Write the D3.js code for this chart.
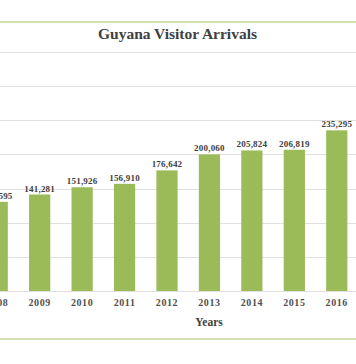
<!DOCTYPE html>
<html><head><meta charset="utf-8">
<script src="https://cdn.jsdelivr.net/npm/d3@7"></script>
<style>html,body{margin:0;padding:0;background:#fff;overflow:hidden}</style>
</head><body>
<script>
const years = ["2008","2009","2010","2011","2012","2013","2014","2015","2016"];
const arrivals = [130595,141281,151926,156910,176642,200060,205824,206819,235295];
const yTicks = [0,50000,100000,150000,200000,250000,300000,350000];
const title = "Guyana Visitor Arrivals";
const xTitle = "Years";

const W = 356, H = 364;
const svg = d3.select("body").append("svg").attr("width", W).attr("height", H);

const x = d3.scaleBand().domain(years).range([-24, 358]).paddingInner(0.5).paddingOuter(0.25);
const y = d3.scaleLinear().domain([0, 350000]).range([291, 52]);

// chart border (green)
svg.append("line").attr("x1",0).attr("x2",W).attr("y1",22).attr("y2",22).attr("stroke","#c3d69b").attr("stroke-width",1.5);
svg.append("line").attr("x1",0).attr("x2",W).attr("y1",339).attr("y2",339).attr("stroke","#c3d69b").attr("stroke-width",1.5);

// gridlines
svg.append("g").selectAll("line").data(yTicks).join("line")
  .attr("x1",0).attr("x2",W)
  .attr("y1",d=>Math.round(y(d))+0.5).attr("y2",d=>Math.round(y(d))+0.5)
  .attr("stroke","#e0e0e0").attr("stroke-width",1.2);

// bars
svg.append("g").selectAll("rect").data(years).join("rect")
  .attr("x",d=>x(d)).attr("width",x.bandwidth())
  .attr("y",(d,i)=>y(arrivals[i])).attr("height",(d,i)=>y(0)-y(arrivals[i]))
  .attr("fill","#9bbb59");

// value labels
const fmt = d3.format(",");
svg.append("g").selectAll("text").data(years).join("text")
  .attr("x",d=>x(d)+x.bandwidth()/2).attr("y",(d,i)=>y(arrivals[i])-3)
  .attr("text-anchor","middle")
  .attr("font-family","Liberation Serif, serif").attr("font-weight","bold").attr("font-size",9)
  .attr("letter-spacing",0.2)
  .attr("fill","#404040")
  .text((d,i)=>fmt(arrivals[i]));

// x axis labels
const xAxis = d3.axisBottom(x).tickSize(0).tickPadding(8);
const gx = svg.append("g").attr("transform","translate(0,291)").call(xAxis);
gx.select(".domain").remove();
gx.selectAll("text").attr("font-family","Liberation Serif, serif").attr("font-weight","bold")
  .attr("font-size",10).attr("letter-spacing",0.6).attr("fill","#505050");

// axis title
svg.append("text").attr("x",209).attr("y",326).attr("text-anchor","middle")
  .attr("font-family","Liberation Serif, serif").attr("font-weight","bold").attr("font-size",11.5)
  .attr("fill","#404040").text(xTitle);

// chart title
svg.append("text").attr("x",177.5).attr("y",39).attr("text-anchor","middle")
  .attr("font-family","Liberation Serif, serif").attr("font-weight","bold").attr("font-size",15.5)
  .attr("fill","#404040").text(title);
</script>
</body></html>
